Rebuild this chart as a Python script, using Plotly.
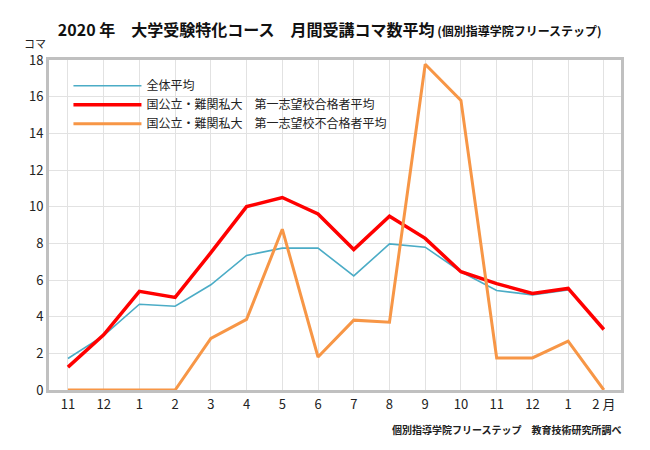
import plotly.graph_objects as go

# Month labels (Nov 2019 - Feb 2021)
months = ['11', '12', '1', '2', '3', '4', '5', '6', '7', '8', '9', '10', '11', '12', '1', '2 月']

# Monthly average number of lessons (コマ)
all_avg = [1.72, 2.97, 4.68, 4.57, 5.74, 7.34, 7.74, 7.74, 6.22, 7.97, 7.79, 6.45, 5.43, 5.19, 5.45, None]
passed_avg = [1.25, 3.01, 5.38, 5.05, 7.49, 10.0, 10.5, 9.6, 7.66, 9.48, 8.27, 6.45, 5.8, 5.27, 5.54, 3.3]
failed_avg = [0, 0, 0, 0, 2.81, 3.85, 8.77, 1.8, 3.81, 3.7, 17.77, 15.8, 1.75, 1.75, 2.67, 0]

names = ['全体平均',
         '国公立・難関私大　第一志望校合格者平均',
         '国公立・難関私大　第一志望校不合格者平均']

FONT = 'Noto Sans CJK JP'
x = list(range(len(months)))

fig = go.Figure()
fig.add_trace(go.Scatter(x=x, y=all_avg, name=names[0], mode='lines',
                         line=dict(color='#4bacc6', width=1.6)))
fig.add_trace(go.Scatter(x=x, y=passed_avg, name=names[1], mode='lines',
                         line=dict(color='#ff0000', width=3.5)))
fig.add_trace(go.Scatter(x=x, y=failed_avg, name=names[2], mode='lines',
                         line=dict(color='#f79646', width=3)))

# the page body adds an 8px offset, so margins are shifted to compensate
fig.update_layout(
    width=650, height=450,
    margin=dict(l=41, r=37, t=52, b=68),
    paper_bgcolor='white', plot_bgcolor='white',
    font=dict(family=FONT, color='#222222'),
    title=dict(
        text='<b>2020 年　大学受験特化コース　月間受講コマ数平均</b>'
             '<span style="font-size:12px"><b> (個別指導学院フリーステップ)</b></span>',
        x=0.495, xref='container', xanchor='center',
        y=0.951, yanchor='middle',
        font=dict(size=16, family=FONT, color='#111111')),
    legend=dict(x=0.034, y=0.966, xanchor='left', yanchor='top',
                bgcolor='rgba(255,255,255,0)', borderwidth=0,
                itemwidth=68, tracegroupgap=0,
                font=dict(size=12, family=FONT, color='#222222')),
    showlegend=True,
)

fig.update_xaxes(
    range=[-0.53, 15.48],
    tickmode='array', tickvals=x, ticktext=months,
    showgrid=True, gridcolor='#e2e2e2', gridwidth=1,
    showline=True, linecolor='#c0c0c0', linewidth=3, mirror=True,
    ticks='', zeroline=False, layer='above traces',
    tickfont=dict(size=13, family=FONT, color='#222222'),
)
fig.update_yaxes(
    range=[0, 18], dtick=2,
    showgrid=True, gridcolor='#e2e2e2', gridwidth=1,
    showline=True, linecolor='#c0c0c0', linewidth=3, mirror=True,
    ticks='', zeroline=False, layer='above traces',
    tickfont=dict(size=13, family=FONT, color='#222222'),
)

# unit label above the y axis
fig.add_annotation(text='コマ', xref='paper', yref='paper', x=-0.002, y=1.02,
                   xanchor='right', yanchor='bottom', showarrow=False,
                   font=dict(size=11, family=FONT, color='#222222'))

# source note
fig.add_annotation(text='<b>個別指導学院フリーステップ　教育技術研究所調べ</b>',
                   xref='paper', yref='paper', x=1.006, y=-0.12,
                   xanchor='right', yanchor='middle', showarrow=False,
                   font=dict(size=10, family=FONT, color='#222222'))

fig.write_html('out.html')
